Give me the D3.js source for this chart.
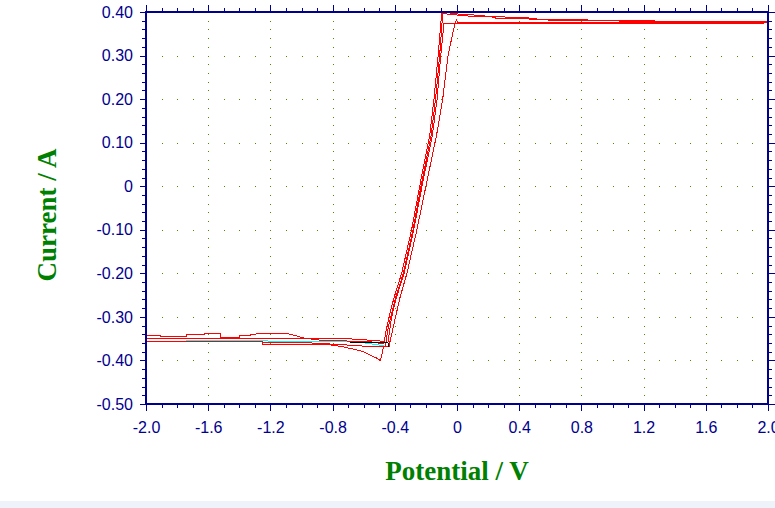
<!DOCTYPE html>
<html>
<head>
<meta charset="utf-8">
<script src="https://cdn.jsdelivr.net/npm/d3@7"></script>
<style>
  body { margin: 0; background: #fff; }
  svg { display: block; }
</style>
</head>
<body>
<div id="chart"></div>
<script>
// axis ticks
const xTicks = [-2.0, -1.6, -1.2, -0.8, -0.4, 0, 0.4, 0.8, 1.2, 1.6, 2.0];
const xTickLabels = ["-2.0", "-1.6", "-1.2", "-0.8", "-0.4", "0", "0.4", "0.8", "1.2", "1.6", "2.0"];
const yTicks = [0.4, 0.3, 0.2, 0.1, 0, -0.1, -0.2, -0.3, -0.4, -0.5];
const yTickLabels = ["0.40", "0.30", "0.20", "0.10", "0", "-0.10", "-0.20", "-0.30", "-0.40", "-0.50"];

// scans: [potential V, current A]
const cycle1 = [
  [-2.0, -0.343], [-1.905, -0.343], [-1.905, -0.3455], [-1.738, -0.3455], [-1.738, -0.3415],
  [-1.627, -0.3415], [-1.627, -0.339], [-1.524, -0.339], [-1.524, -0.3475], [-1.40, -0.3475],
  [-1.40, -0.343], [-1.33, -0.343], [-1.33, -0.340], [-1.25, -0.3385], [-1.093, -0.3385],
  [-1.06, -0.341], [-1.03, -0.344], [-1.0, -0.3475], [-0.945, -0.3505], [-0.88, -0.3535],
  [-0.70, -0.3555], [-0.55, -0.3575], [-0.47, -0.362],
  [-0.455, -0.33], [-0.43, -0.29], [-0.405, -0.256], [-0.356, -0.2], [-0.292, -0.1],
  [-0.24, 0.0], [-0.175, 0.118], [-0.148, 0.2], [-0.122, 0.298], [-0.098, 0.400],
  [-0.05, 0.398], [0.0, 0.396], [0.03, 0.394], [0.12, 0.393], [0.15, 0.391], [0.3, 0.390],
  [0.32, 0.387], [0.5, 0.386], [0.52, 0.383], [0.8, 0.382], [1.0, 0.380], [1.4, 0.379], [2.0, 0.378],
  [2.0, 0.3755], [1.95, 0.374], [-0.084, 0.374],
  [-0.105, 0.298], [-0.128, 0.2], [-0.158, 0.118], [-0.225, 0.0], [-0.278, -0.1],
  [-0.34, -0.2], [-0.39, -0.256], [-0.42, -0.3], [-0.445, -0.36],
  [-0.5, -0.355], [-0.73, -0.3495], [-2.0, -0.3493]
];

const cycle2 = [
  [-2.0, -0.357], [-1.25, -0.357], [-1.248, -0.3645], [-1.01, -0.3645], [-0.86, -0.363],
  [-0.80, -0.365], [-0.74, -0.3683], [-0.67, -0.3736], [-0.60, -0.3798], [-0.56, -0.3874],
  [-0.52, -0.394], [-0.495, -0.400], [-0.485, -0.39], [-0.475, -0.372], [-0.46, -0.365],
  [-0.44, -0.32], [-0.395, -0.256], [-0.345, -0.2], [-0.283, -0.1], [-0.232, 0.0],
  [-0.166, 0.118], [-0.138, 0.2], [-0.112, 0.298], [-0.092, 0.397],
  [-0.04, 0.394], [0.05, 0.392], [0.08, 0.390], [0.22, 0.389], [0.25, 0.386], [0.45, 0.385],
  [0.48, 0.382], [0.75, 0.381], [1.1, 0.379], [1.5, 0.378], [2.0, 0.377],
  [2.0, 0.3765], [0.005, 0.3765], [-0.004, 0.3815], [-0.012, 0.375],
  [-0.034, 0.34], [-0.058, 0.298], [-0.092, 0.2], [-0.131, 0.118], [-0.2, 0.0],
  [-0.258, -0.1], [-0.322, -0.2], [-0.367, -0.256], [-0.395, -0.3], [-0.43, -0.355],
  [-0.437, -0.368],
  [-0.559, -0.368], [-0.75, -0.3635], [-1.01, -0.3585], [-1.3, -0.3575], [-2.0, -0.3575]
];

const cyanScan = [
  [-1.74, -0.3553], [-1.25, -0.3553], [-0.9, -0.356], [-0.73, -0.3565], [-0.6, -0.3595], [-0.47, -0.366]
];

const blackScan = [
  [-0.688, -0.3585], [-0.444, -0.3585], [-0.44, -0.368]
];

// set the dimensions and margins of the graph
const margin = {top: 12, right: 7, bottom: 104, left: 146},
  width = 775 - margin.left - margin.right,
  height = 508 - margin.top - margin.bottom;

const root = d3.select("#chart")
  .append("svg")
    .attr("width", 775)
    .attr("height", 508);

// light strip at the bottom of the window
root.append("rect")
  .attr("x", 0).attr("y", 501)
  .attr("width", 775).attr("height", 7)
  .attr("fill", "#eef2f9");

const svg = root.append("g")
  .attr("transform", `translate(${margin.left},${margin.top})`);

const x = d3.scaleLinear().domain([-2, 2]).range([0, width]);
const y = d3.scaleLinear().domain([-0.5, 0.4]).range([height, 0]);

const xMinor = d3.range(-20, 21).map(i => i / 10);
const yMinor = d3.range(-25, 21).map(i => i / 50);

const axisColor = "#00008f";
const gridColor = "#4f8a00";

// dotted grid
const grid = svg.append("g").attr("shape-rendering", "crispEdges");
xTicks.slice(1, -1).forEach(v => {
  grid.selectAll(null)
    .data(yMinor)
    .join("rect")
      .attr("x", Math.round(x(v)))
      .attr("y", d => Math.round(y(d)))
      .attr("width", 1).attr("height", 1)
      .attr("fill", gridColor);
});
yTicks.slice(1, -1).forEach(v => {
  grid.selectAll(null)
    .data(xMinor)
    .join("rect")
      .attr("x", d => Math.round(x(d)))
      .attr("y", Math.round(y(v)))
      .attr("width", 1).attr("height", 1)
      .attr("fill", gridColor);
});

// axes: major + minor ticks on each side
function styleAxis(g) {
  g.select(".domain").remove();
  g.selectAll("line").attr("stroke", axisColor).attr("shape-rendering", "crispEdges");
  g.selectAll("text")
    .attr("fill", axisColor)
    .style("font-family", "'Liberation Sans', Arial, sans-serif")
    .style("font-size", "16px");
}

svg.append("g").attr("transform", `translate(0,${height})`)
  .call(d3.axisBottom(x).tickValues(xMinor).tickSize(4).tickFormat(""))
  .call(styleAxis);
svg.append("g").attr("transform", `translate(0,${height})`)
  .call(d3.axisBottom(x).tickValues(xTicks).tickSize(7).tickPadding(11)
    .tickFormat((d, i) => xTickLabels[i]))
  .call(styleAxis);

svg.append("g")
  .call(d3.axisTop(x).tickValues(xMinor).tickSize(4).tickFormat(""))
  .call(styleAxis);
svg.append("g")
  .call(d3.axisTop(x).tickValues(xTicks).tickSize(7).tickFormat(""))
  .call(styleAxis);

svg.append("g")
  .call(d3.axisLeft(y).tickValues(yMinor).tickSize(4).tickFormat(""))
  .call(styleAxis);
svg.append("g")
  .call(d3.axisLeft(y).tickValues(yTicks).tickSize(6).tickPadding(7)
    .tickFormat((d, i) => yTickLabels[i]))
  .call(styleAxis);

svg.append("g").attr("transform", `translate(${width},0)`)
  .call(d3.axisRight(y).tickValues(yMinor).tickSize(4).tickFormat(""))
  .call(styleAxis);
svg.append("g").attr("transform", `translate(${width},0)`)
  .call(d3.axisRight(y).tickValues(yTicks).tickSize(7).tickFormat(""))
  .call(styleAxis);

// scans
const line = d3.line()
  .x(d => x(d[0]))
  .y(d => y(d[1]));

svg.append("path")
  .datum(cyanScan)
  .attr("d", line)
  .attr("fill", "none")
  .attr("stroke", "#00ffff")
  .attr("stroke-width", 1)
  .attr("shape-rendering", "crispEdges");

[cycle1, cycle2].forEach(c => {
  svg.append("path")
    .datum(c)
    .attr("d", line)
    .attr("fill", "none")
    .attr("stroke", "#ff0000")
    .attr("stroke-width", 1)
    .attr("stroke-linejoin", "miter")
    .attr("shape-rendering", "crispEdges");
});

svg.append("path")
  .datum(blackScan)
  .attr("d", line)
  .attr("fill", "none")
  .attr("stroke", "#000000")
  .attr("stroke-width", 1)
  .attr("shape-rendering", "crispEdges");

// frame
svg.append("rect")
  .attr("x", 0).attr("y", 0)
  .attr("width", width).attr("height", height)
  .attr("fill", "none")
  .attr("stroke", axisColor)
  .attr("stroke-width", 2);

// axis titles
svg.append("text")
  .attr("text-anchor", "middle")
  .attr("x", width / 2)
  .attr("y", 468)
  .attr("fill", "#008000")
  .style("font-family", "'Liberation Serif', 'Times New Roman', serif")
  .style("font-weight", "bold")
  .style("font-size", "27px")
  .text("Potential / V");

svg.append("text")
  .attr("text-anchor", "middle")
  .attr("transform", `translate(${56 - margin.left},${215 - margin.top}) rotate(-90)`)
  .attr("fill", "#008000")
  .style("font-family", "'Liberation Serif', 'Times New Roman', serif")
  .style("font-weight", "bold")
  .style("font-size", "27px")
  .text("Current / A");
</script>
</body>
</html>
